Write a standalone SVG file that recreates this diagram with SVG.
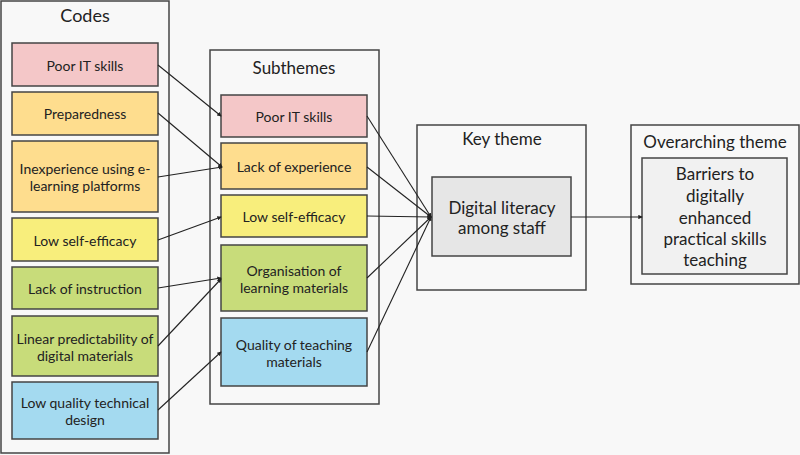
<svg xmlns="http://www.w3.org/2000/svg" width="800" height="455" viewBox="0 0 800 455">
<defs>
<style>
.frame{fill:#f8f8f8;stroke:#444;stroke-width:1.5}
.box{stroke:#444;stroke-width:1.5}
.t{font-family:Lato,"Open Sans","Liberation Sans",sans-serif;fill:#222;text-anchor:middle;dominant-baseline:central}
.s{font-size:14px}
.h{font-size:18px}
.m{font-size:17px}
.pink{fill:#f4c7c8}.orange{fill:#fedd8e}.yellow{fill:#f8ee7c}.green{fill:#c8dc7a}.blue{fill:#a4daf0}.grey{fill:#e6e6e6}.lgrey{fill:#f1f1f1}
.c{stroke:#222;stroke-width:1.1;fill:none;marker-end:url(#a)}
</style>
<marker id="a" viewBox="0 0 6 6" refX="5" refY="3" markerWidth="4" markerHeight="4" orient="auto"><path d="M0,0 L6,3 L0,6 z" fill="#222"/></marker>
</defs>
<rect width="800" height="455" fill="#f8f8f8"/>
<g id="codes">
<rect class="frame" x="1" y="1" width="168" height="452"/>
<text class="t h" x="85" y="15">Codes</text>
</g>
<g id="code-poor-it"><rect class="box pink" x="12" y="43" width="146" height="43"/><text class="t s" x="85" y="65">Poor IT skills</text></g>
<g id="code-preparedness"><rect class="box orange" x="12" y="92" width="146" height="43"/><text class="t s" x="85" y="113">Preparedness</text></g>
<g id="code-inexperience"><rect class="box orange" x="12" y="141" width="146" height="71"/><text class="t s" x="85" y="168">Inexperience using e-</text><text class="t s" x="85" y="185">learning platforms</text></g>
<g id="code-low-self-efficacy"><rect class="box yellow" x="12" y="218" width="146" height="43"/><text class="t s" x="85" y="240">Low self-efficacy</text></g>
<g id="code-lack-instruction"><rect class="box green" x="12" y="267" width="146" height="42"/><text class="t s" x="85" y="288">Lack of instruction</text></g>
<g id="code-linear"><rect class="box green" x="12" y="316" width="146" height="60"/><text class="t s" x="85" y="338">Linear predictability of</text><text class="t s" x="85" y="355">digital materials</text></g>
<g id="code-low-quality"><rect class="box blue" x="12" y="382" width="146" height="57"/><text class="t s" x="85" y="402">Low quality technical</text><text class="t s" x="85" y="419">design</text></g>

<g id="subthemes">
<rect class="frame" x="210" y="50" width="169" height="354"/>
<text class="t m" x="294" y="67">Subthemes</text>
</g>
<g id="sub-poor-it"><rect class="box pink" x="221" y="95" width="146" height="42"/><text class="t s" x="294" y="116">Poor IT skills</text></g>
<g id="sub-lack-experience"><rect class="box orange" x="221" y="143" width="146" height="46"/><text class="t s" x="294" y="166">Lack of experience</text></g>
<g id="sub-low-self-efficacy"><rect class="box yellow" x="221" y="195" width="146" height="42"/><text class="t s" x="294" y="216">Low self-efficacy</text></g>
<g id="sub-organisation"><rect class="box green" x="221" y="245" width="146" height="66"/><text class="t s" x="294" y="270">Organisation of</text><text class="t s" x="294" y="287">learning materials</text></g>
<g id="sub-quality"><rect class="box blue" x="221" y="318" width="146" height="68"/><text class="t s" x="294" y="344">Quality of teaching</text><text class="t s" x="294" y="361">materials</text></g>

<g id="key-theme">
<rect class="frame" x="417" y="125" width="169" height="165"/>
<text class="t m" x="502" y="138">Key theme</text>
</g>
<g id="key-digital-literacy"><rect class="box grey" x="432" y="177" width="139" height="79"/><text class="t m" x="502" y="207">Digital literacy</text><text class="t m" x="502" y="227">among staff</text></g>

<g id="overarching-theme">
<rect class="frame" x="631" y="125" width="168" height="159"/>
<text class="t m" x="715" y="141">Overarching theme</text>
</g>
<g id="overarching-barriers"><rect class="box lgrey" x="642" y="158" width="145" height="116"/>
<text class="t m" x="715" y="173">Barriers to</text><text class="t m" x="715" y="195">digitally</text><text class="t m" x="715" y="217">enhanced</text><text class="t m" x="715" y="238">practical skills</text><text class="t m" x="715" y="259">teaching</text></g>

<g id="connectors">
<path class="c" d="M158,65 L221,116"/>
<path class="c" d="M158,113 L222,167"/>
<path class="c" d="M158,177 L222,167"/>
<path class="c" d="M158,240 L221,217"/>
<path class="c" d="M158,288 L221,278"/>
<path class="c" d="M158,346 L221,279"/>
<path class="c" d="M158,410 L221,352"/>
<path class="c" d="M367,116 L431,217"/>
<path class="c" d="M367,167 L431,217"/>
<path class="c" d="M367,216 L431,217"/>
<path class="c" d="M367,278 L431,217"/>
<path class="c" d="M367,352 L431,217"/>
<path class="c" d="M571,217 L642,217"/>
</g>
</svg>
